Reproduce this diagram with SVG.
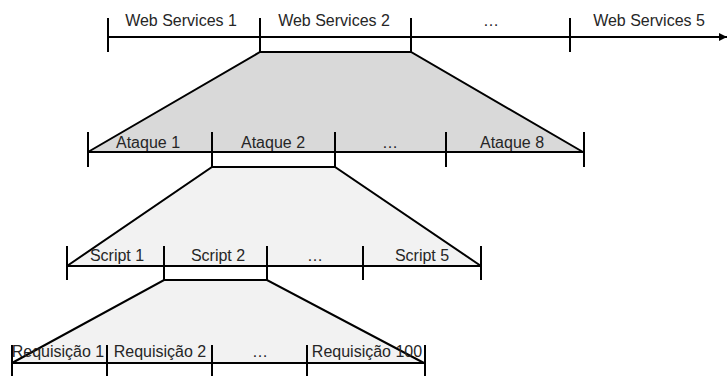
<svg xmlns="http://www.w3.org/2000/svg" width="727" height="376" viewBox="0 0 727 376">
<defs>
<style>
.ln{stroke:#000;stroke-width:2;fill:none}
.t{font-family:"Liberation Sans",Arial,sans-serif;font-size:16px;fill:#262626;text-anchor:middle}
</style>
<marker id="arr" markerWidth="8" markerHeight="8" refX="8" refY="4" orient="auto" markerUnits="userSpaceOnUse">
<path d="M0,0 L8,4 L0,8 Z" fill="#000"/>
</marker>
</defs>
<rect width="727" height="376" fill="#fff"/>
<g id="connectors">
<polygon points="260,52 411,52 583,152 88,152" fill="#d9d9d9"/>
<polyline class="ln" points="88,152 260,52 411,52 583,152"/>
<polygon points="212,167 335,167 481,266 67,266" fill="#f2f2f2"/>
<polyline class="ln" points="67,266 212,167 335,167 481,266"/>
<polygon points="164,280 267,280 424,363 12,363" fill="#f2f2f2"/>
<polyline class="ln" points="12,363 164,280 267,280 424,363"/>
</g>
<g id="level1">
<line class="ln" x1="107" y1="37" x2="727" y2="37" marker-end="url(#arr)"/>
<line class="ln" x1="108" y1="18" x2="108" y2="52"/>
<line class="ln" x1="260" y1="18" x2="260" y2="52"/>
<line class="ln" x1="411" y1="18" x2="411" y2="52"/>
<line class="ln" x1="570" y1="18" x2="570" y2="52"/>
<text class="t" x="181" y="26">Web Services 1</text>
<text class="t" x="334" y="26">Web Services 2</text>
<text class="t" x="491" y="26">…</text>
<text class="t" x="649" y="26">Web Services 5</text>
</g>
<g id="level2">
<line class="ln" x1="88" y1="152" x2="584" y2="152"/>
<line class="ln" x1="88" y1="132" x2="88" y2="167"/>
<line class="ln" x1="212" y1="132" x2="212" y2="167"/>
<line class="ln" x1="335" y1="132" x2="335" y2="167"/>
<line class="ln" x1="446" y1="132" x2="446" y2="167"/>
<line class="ln" x1="584" y1="132" x2="584" y2="167"/>
<text class="t" x="148" y="148">Ataque 1</text>
<text class="t" x="273" y="148">Ataque 2</text>
<text class="t" x="390" y="148">…</text>
<text class="t" x="512" y="148">Ataque 8</text>
</g>
<g id="level3">
<line class="ln" x1="67" y1="266" x2="481" y2="266"/>
<line class="ln" x1="67" y1="246" x2="67" y2="280"/>
<line class="ln" x1="164" y1="246" x2="164" y2="280"/>
<line class="ln" x1="267" y1="246" x2="267" y2="280"/>
<line class="ln" x1="363" y1="246" x2="363" y2="280"/>
<line class="ln" x1="481" y1="246" x2="481" y2="280"/>
<text class="t" x="117" y="261">Script 1</text>
<text class="t" x="218" y="261">Script 2</text>
<text class="t" x="315" y="261">…</text>
<text class="t" x="422" y="261">Script 5</text>
</g>
<g id="level4">
<line class="ln" x1="12" y1="363" x2="425" y2="363"/>
<line class="ln" x1="12" y1="345" x2="12" y2="378"/>
<line class="ln" x1="107" y1="345" x2="107" y2="378"/>
<line class="ln" x1="212" y1="345" x2="212" y2="378"/>
<line class="ln" x1="307" y1="345" x2="307" y2="378"/>
<line class="ln" x1="425" y1="345" x2="425" y2="378"/>
<text class="t" x="58" y="357">Requisição 1</text>
<text class="t" x="160" y="357">Requisição 2</text>
<text class="t" x="260" y="357">…</text>
<text class="t" x="367" y="357">Requisição 100</text>
</g>
</svg>
